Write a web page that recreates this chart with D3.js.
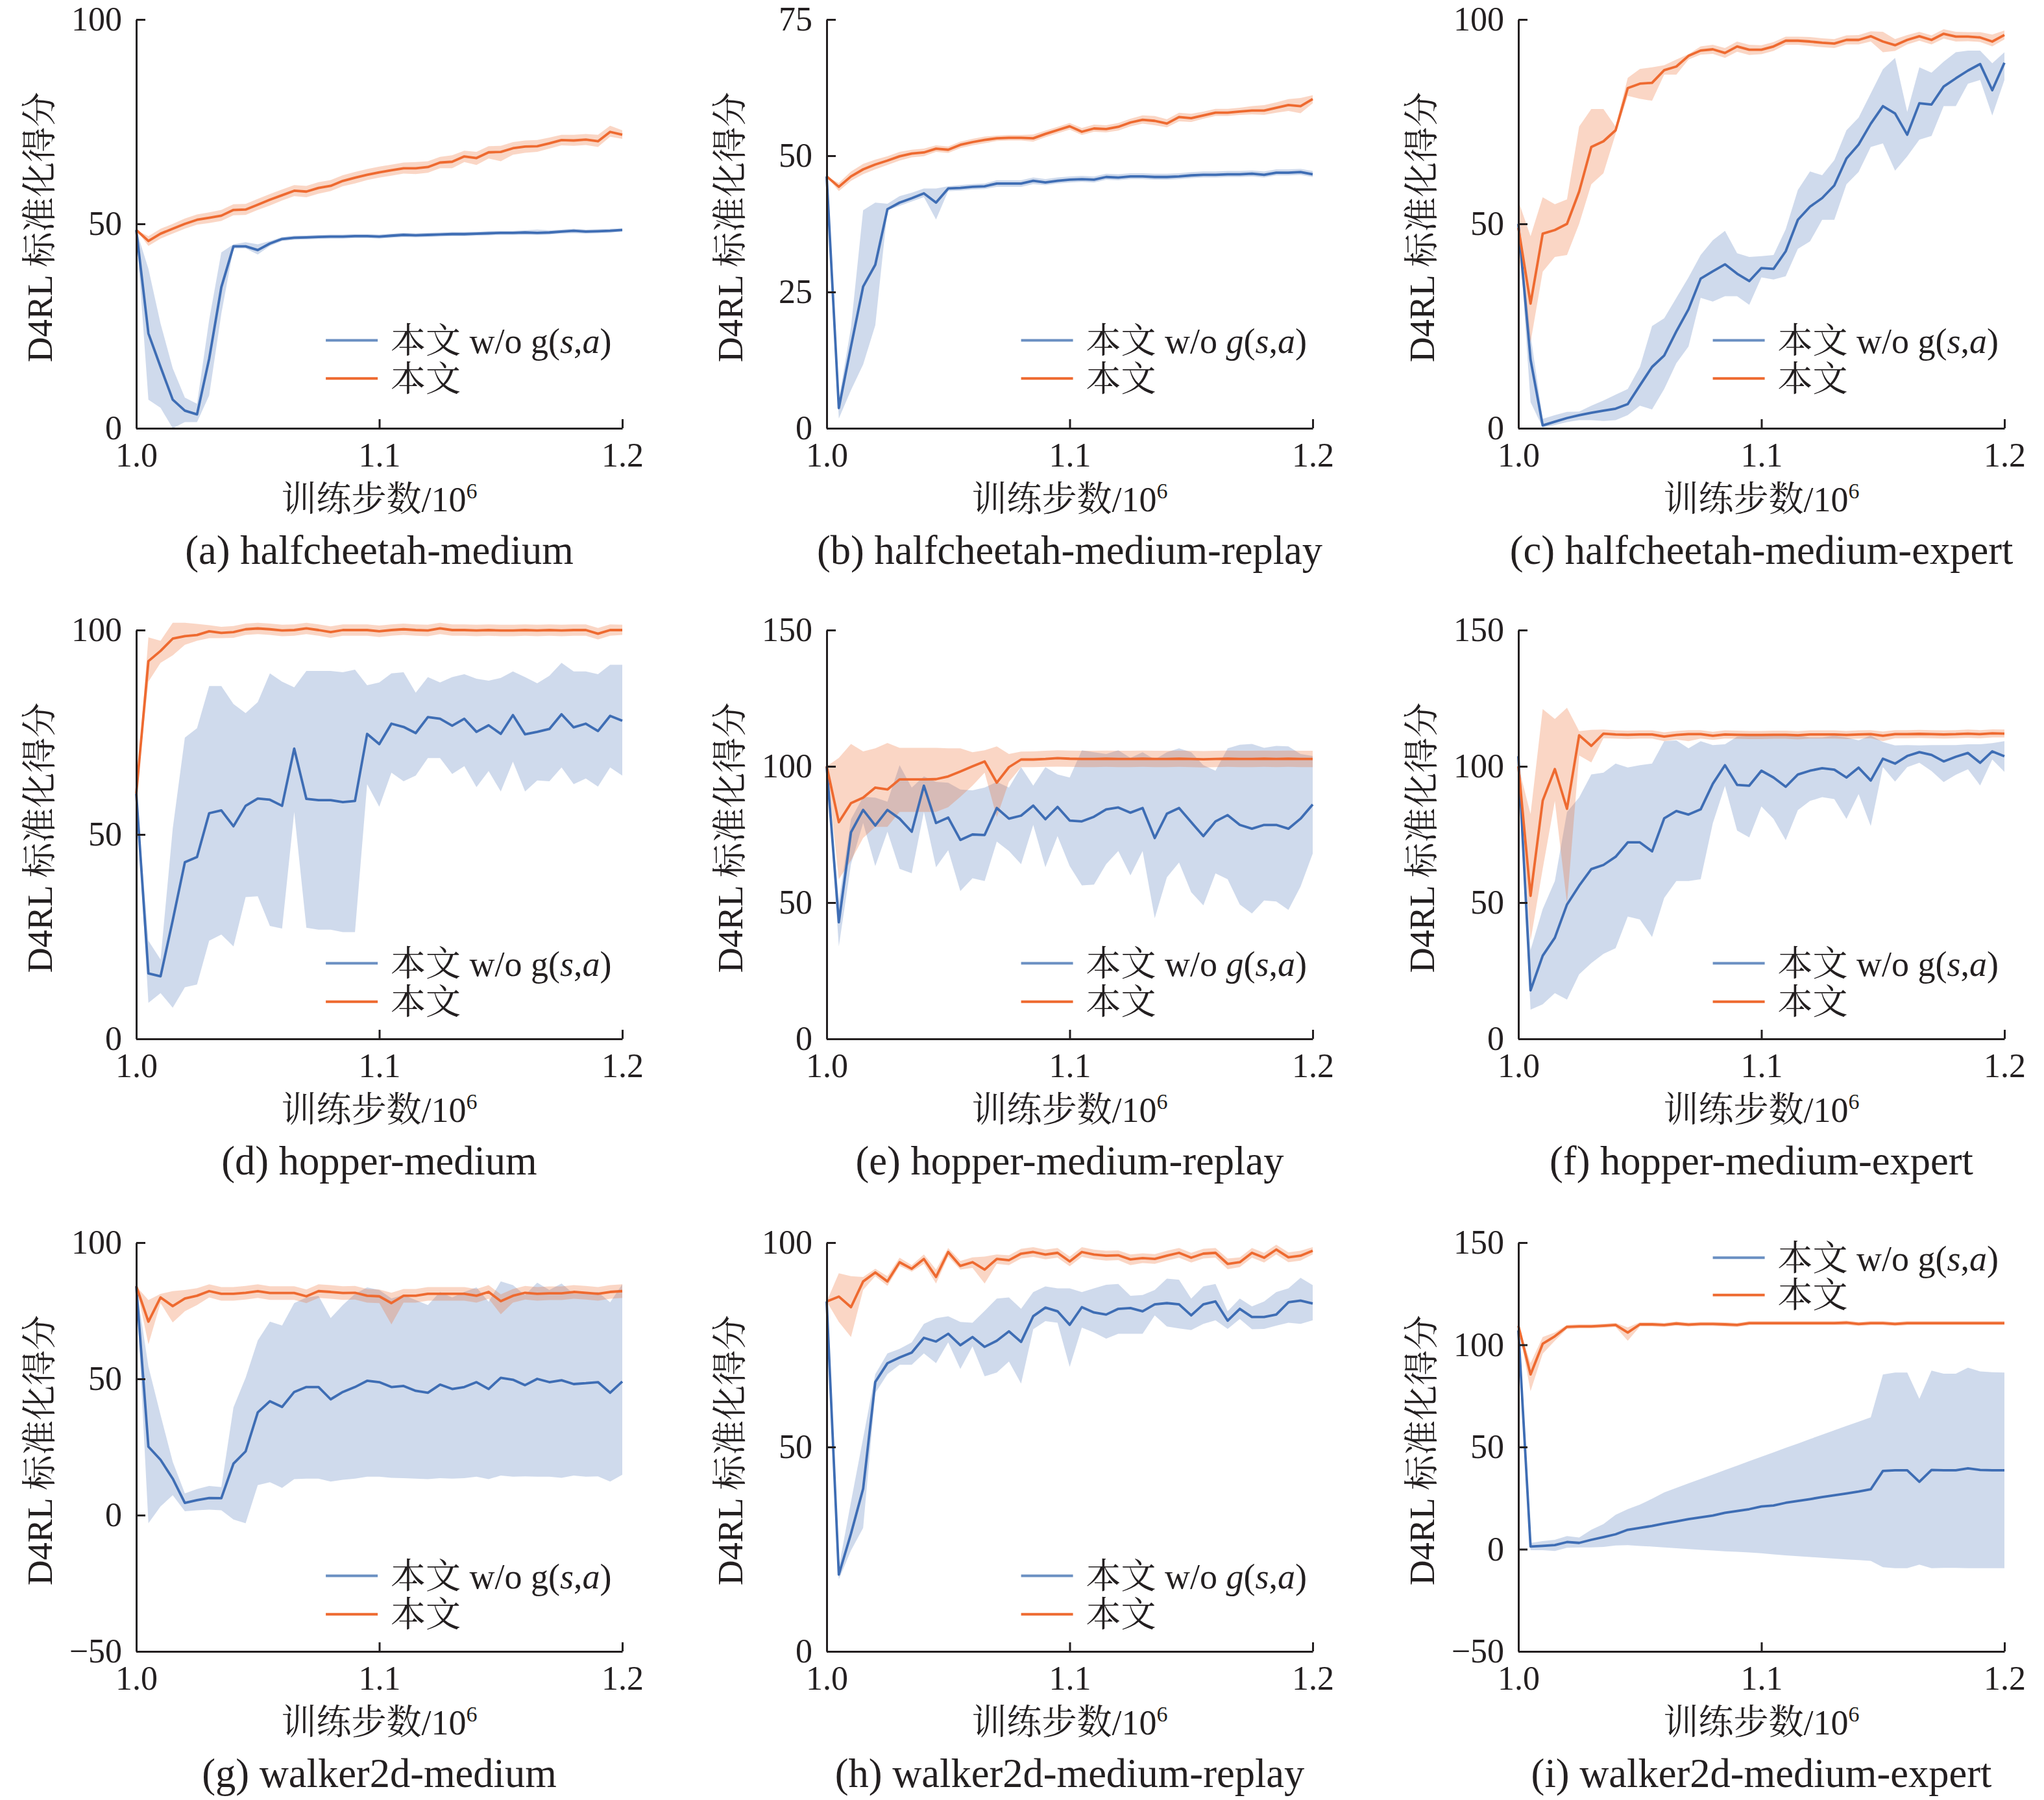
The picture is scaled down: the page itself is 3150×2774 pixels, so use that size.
<!DOCTYPE html>
<html>
<head>
<meta charset="utf-8">
<script src="https://cdn.jsdelivr.net/npm/d3@7"></script>
<style>
    body { margin: 0; background: #fff; }
    svg text { fill: #231f20; }
</style>
</head>
<body>
<svg id="chart" width="3150" height="2774"></svg>
<script>
/* eslint-env browser  */

// training steps (x 10^6), one sample every 0.005
var steps = [1.000, 1.005, 1.010, 1.015, 1.020, 1.025, 1.030, 1.035, 1.040, 1.045,
    1.050, 1.055, 1.060, 1.065, 1.070, 1.075, 1.080, 1.085, 1.090, 1.095,
    1.100, 1.105, 1.110, 1.115, 1.120, 1.125, 1.130, 1.135, 1.140, 1.145,
    1.150, 1.155, 1.160, 1.165, 1.170, 1.175, 1.180, 1.185, 1.190, 1.195, 1.200];
var xTicks = [1.0, 1.1, 1.2];

var seriesNames = ["本文 w/o g(s,a)", "本文"];
var captions = ["(a) halfcheetah-medium", "(b) halfcheetah-medium-replay", "(c) halfcheetah-medium-expert",
    "(d) hopper-medium", "(e) hopper-medium-replay", "(f) hopper-medium-expert",
    "(g) walker2d-medium", "(h) walker2d-medium-replay", "(i) walker2d-medium-expert"];

// y ticks per panel
var aTicks = [0, 50, 100], bTicks = [0, 25, 50, 75], cTicks = [0, 50, 100];
var dTicks = [0, 50, 100], eTicks = [0, 50, 100, 150], fTicks = [0, 50, 100, 150];
var gTicks = [-50, 0, 50, 100], hTicks = [0, 50, 100], iTicks = [-50, 0, 50, 100, 150];

// (a) halfcheetah-medium
var aBlue = [48.5, 23.2, 15, 7, 4.3, 3.4, 17, 34.5, 44.5, 44.5, 43.6, 45.2, 46.3, 46.6, 46.7, 46.8, 46.9, 46.9, 47, 47, 46.9, 47.1, 47.3, 47.2, 47.3, 47.4, 47.5, 47.5, 47.6, 47.7, 47.8, 47.8, 47.9, 47.8, 47.9, 48.1, 48.3, 48.1, 48.2, 48.3, 48.5];
var aBlueLo = [48.5, 7, 5, 0, 1.5, 1.5, 8, 28, 44, 44, 42.5, 44.6, 45.8, 46.1, 46.2, 46.3, 46.4, 46.4, 46.5, 46.5, 46.4, 46.6, 46.8, 46.7, 46.8, 46.9, 47, 47, 47.1, 47.2, 47.3, 47.3, 47.4, 47.3, 47.4, 47.6, 47.7, 47.6, 47.7, 47.8, 48.1];
var aBlueHi = [48.5, 39, 25.6, 14.7, 7.5, 6, 26.5, 43, 45, 45.5, 45, 45.8, 46.8, 47.1, 47.2, 47.3, 47.4, 47.4, 47.5, 47.5, 47.4, 47.6, 47.8, 47.7, 47.8, 47.9, 48, 48, 48.1, 48.2, 48.3, 48.3, 48.4, 48.6, 48.4, 48.6, 48.8, 48.6, 48.7, 48.8, 48.9];
var aOrange = [48.5, 45.8, 47.6, 48.8, 50, 51, 51.5, 52, 53.4, 53.5, 54.7, 55.9, 57, 58.1, 57.9, 58.8, 59.3, 60.5, 61.3, 62, 62.6, 63.1, 63.6, 63.6, 63.9, 65, 65.2, 66.5, 66.1, 67.5, 67.6, 68.5, 68.9, 69, 69.7, 70.5, 70.4, 70.6, 70.2, 72.5, 71.8];
var aOrangeLo = [48.5, 44.6, 46.4, 47.6, 48.8, 49.8, 50.2, 50.7, 52.1, 52.2, 53.4, 54.5, 55.7, 56.8, 56.5, 57.4, 58, 59.2, 59.9, 60.7, 61.3, 61.8, 62.3, 62.2, 62.5, 63.6, 63.6, 65.1, 64.4, 66, 65.3, 66.9, 67.4, 67.6, 68.4, 69.2, 69.1, 69.3, 68.8, 71.3, 70.8];
var aOrangeHi = [48.5, 47, 48.8, 50, 51.3, 52.3, 52.8, 53.4, 54.8, 54.9, 56.1, 57.3, 58.4, 59.5, 59.3, 60.2, 60.7, 61.9, 62.7, 63.4, 64, 64.5, 65, 65.1, 65.3, 66.4, 66.8, 67.9, 67.6, 69, 69.1, 70, 70.4, 70.5, 71.1, 71.8, 71.8, 72, 71.8, 74, 72.9];

// (b) halfcheetah-medium-replay
var bBlue = [46.2, 3.7, 15, 26, 30, 40.2, 41.4, 42.2, 43.1, 41.4, 44, 44.1, 44.3, 44.4, 44.9, 44.9, 44.9, 45.4, 45.1, 45.4, 45.6, 45.7, 45.6, 46.1, 46, 46.2, 46.2, 46.1, 46.1, 46.2, 46.4, 46.5, 46.5, 46.6, 46.6, 46.7, 46.5, 46.9, 46.9, 47, 46.6];
var bBlueLo = [46.2, 1.8, 7, 11.7, 18.9, 40, 40.8, 41.6, 42.4, 38.3, 43.5, 43.6, 43.8, 43.9, 44.3, 44.3, 44.3, 44.8, 44.6, 44.9, 45.1, 45.2, 45.1, 45.6, 45.5, 45.7, 45.7, 45.6, 45.6, 45.7, 45.9, 46, 46, 46.1, 46.1, 46.2, 46, 46.4, 46.4, 46.5, 46.1];
var bBlueHi = [46.2, 5.2, 18.5, 40, 41.4, 41.2, 42.6, 43.2, 44, 44, 44.4, 44.6, 44.8, 44.9, 45.5, 45.5, 45.5, 46, 45.7, 46, 46.2, 46.3, 46.2, 46.7, 46.6, 46.8, 46.8, 46.7, 46.7, 46.8, 47, 47.1, 47.1, 47.2, 47.2, 47.3, 47.1, 47.5, 47.5, 47.6, 47.2];
var bOrange = [46.2, 44.3, 46.2, 47.5, 48.4, 49.1, 49.9, 50.4, 50.6, 51.3, 51.1, 52, 52.5, 52.9, 53.2, 53.3, 53.3, 53.2, 54, 54.7, 55.4, 54.4, 55, 54.9, 55.3, 56.1, 56.6, 56.4, 55.9, 57.1, 56.9, 57.4, 57.9, 57.9, 58.1, 58.3, 58.3, 58.8, 59.3, 59.1, 60.4];
var bOrangeLo = [46.2, 43.5, 45.4, 46.6, 47.5, 48.3, 49.1, 49.7, 49.9, 50.7, 50.5, 51.4, 51.9, 52.3, 52.7, 52.8, 52.8, 52.6, 53.4, 54.1, 54.8, 53.8, 54.4, 54.3, 54.6, 55.4, 55.9, 55.6, 55.2, 56.3, 56.2, 56.8, 57.3, 57.3, 57.5, 57.6, 57.5, 57.9, 58.2, 57.8, 59.6];
var bOrangeHi = [46.2, 45, 47.1, 48.5, 49.3, 49.9, 50.7, 51.1, 51.3, 51.9, 51.7, 52.6, 53.1, 53.5, 53.7, 53.8, 53.8, 53.9, 54.6, 55.3, 56, 55.1, 55.7, 55.6, 56, 56.8, 57.4, 57.3, 56.7, 57.9, 57.7, 58.1, 58.6, 58.6, 58.8, 59.1, 59.3, 59.8, 60.4, 60.6, 61.1];

// (c) halfcheetah-medium-expert
var cBlue = [50, 16.8, 0.7, 1.6, 2.5, 3.2, 3.8, 4.3, 4.8, 5.9, 10.5, 15, 17.8, 23.7, 29.1, 36.6, 38.4, 40.1, 37.8, 36, 39.2, 39, 43.3, 51, 54.2, 56.3, 59.4, 66, 69.4, 74.5, 78.8, 77, 71.8, 79.5, 79.2, 83.6, 85.6, 87.5, 89.1, 82.7, 89.4];
var cBlueLo = [50, 6.4, 0.2, 0.8, 1.5, 2, 2, 1.8, 2, 3.2, 5.5, 4.6, 9.6, 15.9, 20, 31.9, 31, 32.3, 32.3, 30.2, 36.9, 36.4, 37.2, 43.9, 45.7, 51, 51, 59.7, 62.7, 68.8, 69.7, 63, 66.5, 70.6, 71.5, 78.8, 78.8, 84.3, 85.2, 76.5, 85.2];
var cBlueHi = [50, 22.8, 2.3, 3.2, 4, 4.1, 5.5, 6.8, 8.2, 9.6, 15, 25, 26.9, 31.9, 36.9, 42.4, 46, 48.3, 42.8, 41.9, 42.1, 42.4, 48.7, 58.3, 62.8, 61.9, 65.6, 72.9, 76, 81.9, 87.8, 90.6, 77.4, 88.3, 87, 89.7, 92, 92.4, 92.4, 89.3, 92];
var cOrange = [49, 30.5, 47.6, 48.5, 50, 57.9, 68.8, 70.2, 72.9, 83.2, 84.3, 84.5, 87.6, 88.5, 91.1, 92.4, 92.7, 91.8, 93.4, 92.6, 92.6, 93.4, 94.8, 94.8, 94.6, 94.3, 94.1, 95, 95, 95.9, 94.6, 93.7, 95, 95.9, 95, 96.5, 95.8, 95.8, 95.6, 94.6, 96.2];
var cOrangeLo = [43, 21, 38.3, 41.9, 42.4, 50, 59.7, 62.4, 72, 81.3, 80.6, 80.1, 86.5, 86.5, 90.2, 91.4, 91.6, 90.6, 92.1, 91.3, 91.5, 92.3, 93.8, 93.8, 93.5, 93.2, 93, 93.9, 93.9, 94.6, 92, 92.3, 93.9, 94.8, 93.9, 95.3, 94.6, 94.7, 94.5, 93.4, 95.1];
var cOrangeHi = [55.6, 47, 56.5, 54.8, 56, 73.8, 78.1, 78.1, 73.8, 85.7, 87.9, 88.3, 88.8, 90.2, 91.5, 93.4, 93.8, 93, 94.6, 93.8, 93.7, 94.5, 95.8, 95.8, 95.7, 95.4, 95.2, 96.1, 96.2, 97.1, 97, 95.2, 96.2, 97, 96.1, 97.6, 97, 96.9, 96.9, 96.3, 97.3];

// (d) hopper-medium
var dBlue = [60, 16, 15.3, 29, 43.2, 44.5, 55.2, 55.9, 52, 57, 58.8, 58.5, 57, 71, 58.7, 58.4, 58.4, 57.9, 58.2, 74.6, 72.1, 77.1, 76.3, 74.8, 78.7, 78.3, 76.6, 78.3, 75.1, 76.7, 74.6, 79.2, 74.5, 75.1, 75.8, 79.4, 76.2, 77.1, 75.3, 79, 77.8];
var dBlueLo = [60, 8.8, 11.2, 7.6, 12.6, 13.3, 24, 25.5, 22.6, 34.7, 34.9, 27.6, 27, 55.5, 27.2, 26.7, 26.7, 26.1, 26.1, 62.3, 56.8, 65.1, 63, 64.4, 68.7, 68.7, 64.8, 66.7, 61.6, 65.5, 60.5, 67.8, 60.5, 63.2, 63, 66.4, 62.3, 63.7, 61.7, 66.4, 64.4];
var dBlueHi = [60, 24, 19.4, 51.4, 73.7, 76, 86.3, 86.3, 81.9, 79.7, 82.4, 89.4, 87.4, 86, 90, 90, 90, 89.7, 90.3, 86.5, 87.2, 89.4, 89.7, 84.7, 88.5, 87.2, 88.5, 89.2, 88.1, 87.6, 88.3, 89.9, 88.5, 87, 88.8, 92, 89.9, 89.9, 89.2, 91.5, 91.5];
var dOrange = [60, 92.4, 94.9, 97.9, 98.5, 98.8, 99.7, 99.3, 99.5, 100.2, 100.4, 100.2, 99.9, 100, 100.4, 100, 99.5, 100, 100, 100, 99.7, 100, 100.2, 100, 99.9, 100.4, 100, 100, 99.9, 100, 99.9, 99.9, 100, 99.9, 100, 99.9, 100, 100, 99.1, 100, 100];
var dOrangeLo = [60, 87.4, 92, 93.8, 96.4, 97.4, 98, 98, 98.1, 98.8, 99, 98.8, 98.5, 98.6, 99, 98.6, 98.1, 98.6, 98.6, 98.6, 98.3, 98.6, 98.8, 98.6, 98.5, 99, 98.6, 98.6, 98.5, 98.6, 98.5, 98.5, 98.6, 98.5, 98.6, 98.5, 98.6, 98.6, 97.7, 98.6, 98.8];
var dOrangeHi = [60, 98.2, 97.4, 101.8, 101.8, 101.5, 101.2, 100.8, 101, 101.6, 101.8, 101.6, 101.3, 101.4, 101.8, 101.4, 100.9, 101.4, 101.4, 101.4, 101.1, 101.4, 101.6, 101.4, 101.3, 101.8, 101.4, 101.4, 101.3, 101.4, 101.3, 101.3, 101.4, 101.3, 101.4, 101.3, 101.4, 101.4, 100.5, 101.4, 101.3];

// (e) hopper-medium-replay
var eBlue = [100, 42.8, 75.8, 84, 78.3, 84, 80.8, 76, 92.9, 79.2, 81.2, 73, 75, 74.8, 84.7, 80.8, 81.9, 85.6, 80.6, 85.1, 80.1, 79.8, 81.5, 84.2, 84.9, 83, 84.7, 73.7, 82.6, 84.7, 79.5, 74.4, 79.8, 82.1, 78.5, 77.1, 78.5, 78.5, 77.1, 80.8, 86];
var eBlueLo = [100, 33.9, 64.1, 79.2, 63.4, 76, 62.4, 60.8, 83.3, 63, 69.2, 54.2, 58.9, 57.9, 72.4, 68.9, 64.1, 78.5, 63, 74.4, 63.4, 56.3, 56.6, 64.1, 68.9, 60, 68.9, 44.3, 59.3, 64.7, 53.8, 49, 60.7, 58.6, 49.3, 46, 50.8, 50.4, 47.3, 55.9, 68];
var eBlueHi = [100, 50.4, 80.6, 88.8, 88.5, 87, 100.4, 92.2, 96.3, 94.3, 94, 91.5, 91.2, 92.2, 94.3, 92.2, 99.7, 92.9, 99.7, 97, 95.9, 105.9, 105.2, 104.5, 105.9, 103.1, 105.2, 102.5, 105.2, 106.6, 105.2, 100.4, 98.4, 106.6, 107.9, 108.2, 106.8, 107.5, 107.3, 104.5, 103.8];
var eOrange = [100, 79.5, 86.5, 88.5, 92.2, 91.5, 95.2, 95.2, 95.2, 95.3, 96.3, 98.1, 100, 101.8, 94, 99.7, 102.5, 102.5, 102.7, 103, 102.8, 102.7, 102.7, 102.8, 102.7, 102.7, 102.8, 102.7, 102.7, 102.8, 102.7, 102.6, 102.7, 102.8, 102.7, 102.7, 102.8, 102.7, 102.8, 102.7, 102.7];
var eOrangeLo = [100, 58.6, 65.5, 73.7, 77.8, 77.8, 83.3, 83.3, 83.3, 83.3, 85, 88.8, 92.9, 97.7, 81.3, 94.3, 99.7, 99.7, 99.8, 99.9, 99.8, 99.7, 99.7, 99.8, 99.7, 99.7, 99.8, 99.7, 99.7, 99.8, 99.7, 99.6, 99.7, 99.8, 99.7, 99.7, 99.8, 99.7, 99.8, 99.7, 99.7];
var eOrangeHi = [100, 103.1, 108.2, 105.5, 106.6, 108.6, 106.8, 106.8, 106.8, 106.8, 106.6, 106.6, 105.2, 105.9, 107.3, 104.5, 105.4, 105.5, 105.7, 105.9, 105.8, 105.7, 105.7, 105.8, 105.7, 105.7, 105.8, 105.7, 105.7, 105.8, 105.7, 105.6, 105.7, 105.8, 105.7, 105.7, 105.8, 105.7, 105.8, 105.7, 105.7];

// (f) hopper-medium-expert
var fBlue = [103.7, 17.8, 30.5, 37.1, 49.3, 56.2, 62.3, 63.8, 66.8, 72.1, 72.1, 68.8, 80.9, 83.6, 82.3, 84.2, 93.6, 100.4, 93.2, 92.9, 98.4, 95.9, 92.5, 97, 98.4, 99.3, 98.8, 95.9, 99.5, 94.8, 102.8, 101, 103.8, 105.2, 104.2, 101.8, 103.5, 104.9, 101.3, 105.5, 103.7];
var fBlueLo = [103.7, 10.7, 12.7, 16.8, 14.4, 23.7, 27.8, 31.2, 33.3, 44.9, 43.8, 37.4, 51.7, 57.9, 57.9, 58.6, 79.1, 92.8, 76.4, 73.9, 85.3, 80.7, 72.9, 83.9, 87.3, 88.7, 88, 80.7, 89.8, 78.1, 99.7, 94.4, 99.7, 101.3, 98.3, 94.2, 96.9, 98.9, 93, 102.5, 98];
var fBlueHi = [103.7, 32.6, 47.6, 57.9, 83.2, 88.6, 97, 97.7, 101, 99.6, 100.4, 101, 109.2, 109.5, 106.6, 109.2, 107.8, 108.1, 110.9, 111.3, 111.3, 111.3, 111.3, 111.3, 110.6, 110.6, 111.3, 110.6, 109.5, 111.3, 108.9, 107.7, 107.8, 107.7, 107.8, 107.8, 107.8, 108.1, 108.1, 108.5, 109.2];
var fOrange = [100, 52.5, 87.4, 99, 84.4, 111.4, 107.5, 112, 111.7, 111.6, 111.7, 111.7, 110.9, 111.5, 111.8, 111.8, 111.2, 111.7, 111.6, 111.5, 111.5, 111.6, 111.6, 111.4, 111.7, 111.7, 111.7, 111.5, 111.7, 111.8, 111.2, 111.8, 111.8, 111.9, 111.8, 111.7, 111.8, 112, 111.8, 112.1, 112];
var fOrangeLo = [100, 36, 62.4, 87.3, 49.7, 104, 101.4, 110.3, 110.2, 110, 110.2, 110.2, 109.2, 109.8, 109.2, 110.2, 109.7, 110.2, 110.1, 110, 110, 110.1, 110.1, 109.9, 110.2, 110.2, 110.2, 110, 110.2, 110.3, 109.2, 110.3, 110.3, 110.4, 110.3, 110.2, 110.3, 110.5, 110.3, 110.6, 110.6];
var fOrangeHi = [100, 82.5, 121, 117.4, 121.5, 112.9, 113.4, 113.5, 113.2, 113.1, 113.2, 113.2, 112.5, 113, 113.3, 113.3, 112.7, 113.2, 113.1, 113, 113, 113.1, 113.1, 112.9, 113.2, 113.2, 113.2, 113, 113.2, 113.3, 112.8, 113.3, 113.3, 113.4, 113.3, 113.2, 113.3, 113.5, 113.3, 113.6, 113.5];

// (g) walker2d-medium
var gBlue = [84, 25.1, 20.3, 13.4, 4.5, 5.5, 6.3, 6.2, 18.9, 23.4, 37.7, 41.8, 39.7, 45.2, 47, 47, 42.5, 45.2, 47, 49.3, 48.8, 47, 47.4, 45.6, 44.9, 47.9, 46.3, 47, 48.8, 46.3, 50.4, 49.7, 47.7, 50, 48.8, 49.5, 48.1, 48.4, 48.8, 44.9, 49];
var gBlueLo = [84, -3, 3.2, 7.3, 1.4, 1.8, 2, 1.8, -1.6, -3, 11, 12.1, 10, 13.2, 13.4, 13.4, 12.3, 13, 13.4, 14.1, 14.1, 13.7, 13.6, 13.4, 13.2, 13.6, 13.4, 13.6, 14.1, 13.2, 14.5, 14.1, 14.2, 14.1, 14.1, 13.7, 14.5, 14.1, 14.2, 12.3, 14.8];
var gBlueHi = [84, 54.5, 36.7, 19.6, 8, 9.6, 10.7, 10.3, 39.5, 50.4, 64.1, 71, 69.6, 77.8, 79.9, 80.5, 72.3, 77.1, 81.2, 83.6, 82.6, 79.5, 80.8, 78.9, 77.1, 81.9, 79.9, 81.9, 83.6, 78.3, 85.8, 84.4, 80.8, 85.3, 82.6, 85, 81.2, 81.2, 81.9, 78.1, 84.7];
var gOrange = [84, 71, 79.9, 76.7, 79.5, 80.5, 82.2, 81.2, 81.2, 81.6, 82.2, 81.5, 81.5, 81.5, 80.3, 82.2, 81.9, 81.5, 81.6, 80.5, 80.3, 77.8, 80.5, 80.5, 81.2, 81.2, 81.2, 81.2, 80.5, 81.9, 78.5, 80.5, 81.6, 81.2, 81.4, 81.4, 81.9, 81.6, 81.2, 81.9, 82.2];
var gOrangeLo = [84, 62.7, 77.8, 70.7, 74.8, 77.1, 79.9, 78.7, 78.7, 79.1, 79.7, 79, 79, 79, 77.8, 79.7, 79.4, 79, 79.1, 78, 77.8, 70, 78, 78, 78.7, 78.7, 78.7, 78.7, 78, 79.4, 73.7, 78, 79.1, 78.7, 78.9, 78.9, 79.4, 79.1, 78.7, 79.4, 79.7];
var gOrangeHi = [84, 78.9, 81.2, 82.2, 82.6, 83.3, 84.7, 83.7, 83.7, 84.1, 84.7, 84, 84, 84, 82.8, 84.7, 84.4, 84, 84.1, 83, 82.8, 81.6, 83, 83, 83.7, 83.7, 83.7, 83.7, 83, 84.4, 81, 83, 84.1, 83.7, 83.9, 83.9, 84.4, 84.1, 83.7, 84.4, 84.7];

// (h) walker2d-medium-replay
var hBlue = [85.6, 18.8, 28.8, 39.8, 65.9, 70.5, 71.9, 73.1, 76.7, 75.8, 77.7, 74.9, 76.9, 74.5, 76, 78.3, 75.7, 82, 84.1, 83.2, 79.9, 84.2, 82.9, 82.4, 83.8, 84, 83.2, 84.9, 85.2, 84.9, 82.2, 84.9, 85.6, 80.9, 83.8, 81.8, 81.8, 82.4, 85.4, 85.8, 85.1];
var hBlueLo = [85.6, 17.6, 24.7, 30.2, 63.2, 67.8, 70.1, 70.1, 72.9, 70.5, 75.6, 69.1, 74.6, 67.3, 68.2, 70.9, 65.5, 78.8, 80.8, 80.4, 69.6, 79.2, 78, 76.5, 77.7, 77.7, 77.7, 82.2, 79.5, 79, 78.6, 80.1, 81, 78.9, 81.3, 78.8, 78.9, 79.7, 80.4, 80.1, 81];
var hBlueHi = [85.6, 20.6, 36.6, 52.2, 67.8, 72.9, 74, 75.6, 80.1, 81.5, 82, 80.6, 80.4, 83.3, 86.3, 86.6, 83.8, 87.9, 89.3, 88.8, 88.8, 87.9, 88.8, 89.7, 89.9, 87, 87.2, 88.4, 91.2, 90.9, 86.3, 89.3, 89.9, 83.2, 86.3, 84.4, 85.6, 87.9, 88.8, 91.4, 89.6];
var hOrange = [85.6, 86.8, 84.2, 90.5, 92.7, 90.5, 95.2, 93.6, 96, 91.6, 97.7, 94.3, 95.2, 93.4, 96, 95.7, 97.3, 97.7, 97.1, 97.5, 95.4, 97.7, 97.1, 96.8, 96.9, 95.9, 96.2, 96, 96.8, 97.5, 96.3, 97.3, 97.5, 94.8, 95.2, 97.5, 96.3, 98.3, 96.4, 96.8, 98];
var hOrangeLo = [85.6, 80.6, 76.9, 88.4, 91.8, 89.4, 94.3, 92.9, 94.8, 90, 96.6, 93.4, 93.8, 90, 94.8, 94.5, 96.1, 96.5, 95.9, 96.3, 94.2, 96.5, 95.9, 95.6, 95.7, 94.5, 95, 94.8, 95.6, 96.3, 95.1, 96.1, 96.3, 93.5, 94, 96.3, 95.1, 97.1, 95.2, 95.6, 97.1];
var hOrangeHi = [85.6, 92.5, 91.8, 91.6, 93.6, 91.8, 96.3, 94.5, 97.1, 93.4, 98.7, 95.5, 96.4, 96.6, 97.1, 96.9, 98.5, 98.9, 98.3, 98.7, 96.6, 98.9, 98.3, 98, 98.1, 97.1, 97.4, 97.2, 98, 98.7, 97.5, 98.5, 98.7, 96.1, 96.4, 98.7, 97.5, 99.5, 97.6, 98, 98.9];

// (i) walker2d-medium-expert
var iBlue = [107, 1.3, 1.6, 2, 3.5, 3.1, 4.6, 5.9, 7.3, 9.5, 10.4, 11.4, 12.6, 13.6, 14.7, 15.6, 16.5, 17.8, 18.7, 19.6, 20.9, 21.4, 22.7, 23.6, 24.5, 25.5, 26.4, 27.3, 28.2, 29.3, 38.3, 38.6, 38.6, 33, 38.8, 38.6, 38.6, 39.6, 38.8, 38.6, 38.6];
var iBlueLo = [107, -0.5, -0.5, -0.9, 0.7, 0.9, 0.9, 1.1, 1.8, 2, 1.6, 1.3, 0.9, 0.5, 0.1, -0.3, -0.6, -1, -1.3, -1.6, -2, -2.5, -3, -3.4, -3.8, -4.2, -4.6, -5, -5.3, -5.7, -8.8, -9.3, -9.3, -7.5, -9.3, -9.1, -9.1, -9.3, -9.3, -9.3, -9.3];
var iBlueHi = [107, 3.1, 4, 4.6, 6.4, 5.7, 9.5, 12.3, 16.8, 19.6, 21.8, 24.7, 27.8, 30, 32.2, 34.4, 36.5, 38.7, 40.9, 43.1, 45.2, 47.4, 49.6, 51.7, 53.9, 56, 58.2, 60.3, 62.4, 64.5, 85.5, 86.4, 86.4, 73.6, 87.4, 85.9, 85.9, 88.8, 87, 86.6, 86.4];
var iOrange = [109.3, 85.5, 100.5, 104.2, 108.8, 109, 109, 109.3, 109.7, 106, 110, 110, 109.7, 110.4, 109.9, 110.2, 110.2, 110, 109.7, 110.6, 110.6, 110.6, 110.6, 110.6, 110.6, 110.6, 110.6, 110.8, 110.2, 110.6, 110.6, 110.2, 110.6, 110.6, 110.6, 110.6, 110.6, 110.6, 110.6, 110.6, 110.6];
var iOrangeLo = [109.3, 77.3, 95.6, 102, 107.8, 108, 108, 108.3, 108.7, 102, 109, 109, 108.7, 109.4, 108.9, 109.2, 109.2, 109, 108.7, 109.6, 109.6, 109.6, 109.6, 109.6, 109.6, 109.6, 109.6, 109.8, 109.2, 109.6, 109.6, 109.2, 109.6, 109.6, 109.6, 109.6, 109.6, 109.6, 109.6, 109.6, 109.6];
var iOrangeHi = [109.3, 91, 103.8, 106, 109.8, 110, 110, 110.3, 110.7, 108.5, 111, 111, 110.7, 111.4, 110.9, 111.2, 111.2, 111, 110.7, 111.6, 111.6, 111.6, 111.6, 111.6, 111.6, 111.6, 111.6, 111.8, 111.2, 111.6, 111.6, 111.2, 111.6, 111.6, 111.6, 111.6, 111.6, 111.6, 111.6, 111.6, 111.6];

var Figure = Figure || {};
Figure.chart = function () {
    "use strict";

    var that = {}, svg;
    var FONT = '"Liberation Serif", "Times New Roman", "Noto Serif CJK SC", "Noto Sans CJK SC", serif';
    var BLUE = "#3e6db4", ORANGE = "#ee6a30";
    var colX = [210, 1274, 2340], rowY = [30, 971, 1915];
    var W = 749, H = 630;

    function init() {
        svg = d3.select("#chart");
        svg.append("rect").attr("width", 3150).attr("height", 2774).attr("fill", "#fff");

        var panels = [
            {blue: [aBlue, aBlueLo, aBlueHi], orange: [aOrange, aOrangeLo, aOrangeHi], ticks: aTicks},
            {blue: [bBlue, bBlueLo, bBlueHi], orange: [bOrange, bOrangeLo, bOrangeHi], ticks: bTicks},
            {blue: [cBlue, cBlueLo, cBlueHi], orange: [cOrange, cOrangeLo, cOrangeHi], ticks: cTicks},
            {blue: [dBlue, dBlueLo, dBlueHi], orange: [dOrange, dOrangeLo, dOrangeHi], ticks: dTicks},
            {blue: [eBlue, eBlueLo, eBlueHi], orange: [eOrange, eOrangeLo, eOrangeHi], ticks: eTicks},
            {blue: [fBlue, fBlueLo, fBlueHi], orange: [fOrange, fOrangeLo, fOrangeHi], ticks: fTicks},
            {blue: [gBlue, gBlueLo, gBlueHi], orange: [gOrange, gOrangeLo, gOrangeHi], ticks: gTicks},
            {blue: [hBlue, hBlueLo, hBlueHi], orange: [hOrange, hOrangeLo, hOrangeHi], ticks: hTicks},
            {blue: [iBlue, iBlueLo, iBlueHi], orange: [iOrange, iOrangeLo, iOrangeHi], ticks: iTicks}
        ];

        for (var k = 0; k < panels.length; k++) {
            var col = k % 3, row = Math.floor(k / 3);
            panels[k].caption = captions[k];
            panels[k].col = col;
            // legend sits at the top only in (i)
            panels[k].legendY = k === 8 ? [0.037, 0.128] : (row === 0 ? [0.785, 0.878] : [0.815, 0.909]);
            drawPanel(panels[k], colX[col], rowY[row]);
        }
    }

    function drawPanel(p, x0, y0) {
        var g = svg.append("g")
            .attr("transform", "translate(" + x0 + "," + y0 + ")");

        var ticks = p.ticks;
        var x = d3.scaleLinear().domain([1.0, 1.2]).range([0, W]);
        var y = d3.scaleLinear().domain([ticks[0], ticks[ticks.length - 1]]).range([H, 0]);

        var band = d3.area()
            .x(function (d, i) { return x(steps[i]); })
            .y0(function (d) { return y(d[0]); })
            .y1(function (d) { return y(d[1]); });
        var line = d3.line()
            .x(function (d, i) { return x(steps[i]); })
            .y(function (d) { return y(d); });

        g.append("path").datum(d3.zip(p.blue[1], p.blue[2]))
            .attr("d", band).attr("fill", BLUE).attr("fill-opacity", 0.25);
        g.append("path").datum(d3.zip(p.orange[1], p.orange[2]))
            .attr("d", band).attr("fill", ORANGE).attr("fill-opacity", 0.28);
        g.append("path").datum(p.blue[0])
            .attr("d", line).attr("fill", "none").attr("stroke", BLUE)
            .attr("stroke-width", 3.8).attr("stroke-linejoin", "round");
        g.append("path").datum(p.orange[0])
            .attr("d", line).attr("fill", "none").attr("stroke", ORANGE)
            .attr("stroke-width", 3.8).attr("stroke-linejoin", "round");

        // axes, ticks pointing inwards
        var yAxis = g.append("g")
            .call(d3.axisLeft(y).tickValues(ticks).tickSizeInner(-14).tickSizeOuter(0).tickPadding(22));
        var xAxis = g.append("g")
            .attr("transform", "translate(0," + H + ")")
            .call(d3.axisBottom(x).tickValues(xTicks).tickFormat(d3.format(".1f"))
                .tickSizeInner(-14).tickSizeOuter(0).tickPadding(22));
        [yAxis, xAxis].forEach(function (a) {
            a.attr("font-family", FONT).attr("font-size", 52);
            a.selectAll("path, line").attr("stroke", "#231f20").attr("stroke-width", 3);
            a.selectAll("text").attr("fill", "#231f20");
        });

        var xl = g.append("text")
            .attr("x", W / 2).attr("y", H + 128)
            .attr("text-anchor", "middle")
            .attr("font-family", FONT).attr("font-size", 54)
            .text("训练步数/10");
        xl.append("tspan").attr("dy", -20).attr("font-size", 34).text("6");

        g.append("text")
            .attr("transform", "translate(-148," + (H / 2 + 5) + ") rotate(-90)")
            .attr("text-anchor", "middle")
            .attr("dominant-baseline", "central")
            .attr("font-family", FONT).attr("font-size", 54)
            .text("D4RL 标准化得分");

        g.append("text")
            .attr("x", W / 2).attr("y", H + 209)
            .attr("text-anchor", "middle")
            .attr("font-family", FONT).attr("font-size", 62.5)
            .text(p.caption);

        drawLegend(g, p);
    }

    function drawLegend(g, p) {
        var lx = W * (p.col === 0 ? 0.39 : 0.40);
        var lineColors = ["#6a8fc2", ORANGE];
        for (var j = 0; j < 2; j++) {
            var ly = H * p.legendY[j];
            g.append("line")
                .attr("x1", lx).attr("x2", lx + 80)
                .attr("y1", ly).attr("y2", ly)
                .attr("stroke", lineColors[j]).attr("stroke-width", 4);
            var t = g.append("text")
                .attr("x", lx + 100).attr("y", ly)
                .attr("dy", "0.36em")
                .attr("font-family", FONT).attr("font-size", 54);
            if (j === 0) {
                // 本文 w/o g(s,a) with italic variables
                t.append("tspan").text("本文 w/o ");
                t.append("tspan").attr("font-style", p.col === 1 ? "italic" : "normal").text("g");
                t.append("tspan").text("(");
                t.append("tspan").attr("font-style", "italic").text("s");
                t.append("tspan").text(",");
                t.append("tspan").attr("font-style", "italic").text("a");
                t.append("tspan").text(")");
            } else {
                t.text(seriesNames[1]);
            }
        }
    }

    that.init = init;
    return that;
};

Figure.chart().init();
</script>
</body>
</html>
